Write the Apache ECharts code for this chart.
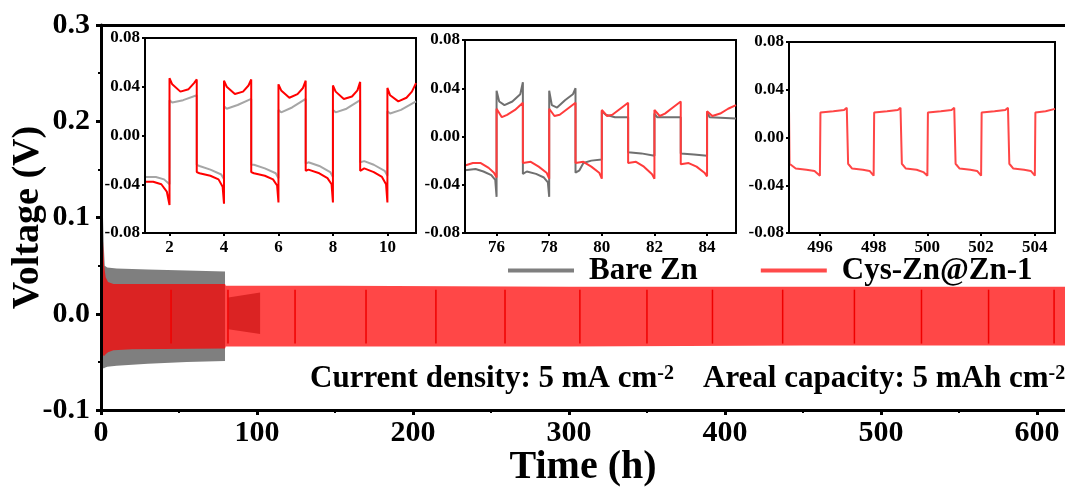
<!DOCTYPE html>
<html><head><meta charset="utf-8">
<script src="https://cdn.jsdelivr.net/npm/echarts@6/dist/echarts.min.js"></script>
<style>html,body{margin:0;padding:0;background:#fff}#c{width:1065px;height:490px}</style>
</head><body><div id="c"></div>
<script>
// ---------- main panel: envelope of the dense cycling band ----------
const bareT1  = [0.5, 1.2, 1.8, 2.4, 4, 10, 30, 55, 79.5];
const bareUp1 = [0.126, 0.105, 0.070, 0.050, 0.048, 0.047, 0.046, 0.045, 0.044];
const bareLo1 = [-0.045, -0.056, -0.057, -0.056, -0.055, -0.054, -0.052, -0.050, -0.049];
const bareT2  = [81.6, 102];
const bareUp2 = [0.017, 0.022];
const bareLo2 = [-0.016, -0.021];
const cysT  = [0.6, 1.3, 2.0, 3.0, 4.5, 8, 20, 79.5, 80, 150, 300, 450, 618];
const cysUp = [0.084, 0.075, 0.050, 0.038, 0.033, 0.031, 0.031, 0.031, 0.029, 0.029, 0.028, 0.028, 0.028];
const cysLo = [-0.030, -0.043, -0.044, -0.042, -0.040, -0.038, -0.037, -0.036, -0.034, -0.034, -0.034, -0.033, -0.033];
const cysBreakT = [44.9, 81.4, 124.4, 169.9, 214.7, 259, 307, 350, 392, 437, 483, 526, 569, 611];
const cysBreakTop = 0.025, cysBreakBottom = -0.031;
const mainXTicks = [0, 100, 200, 300, 400, 500, 600];
const mainXMinor = [50, 150, 250, 350, 450, 550];

// ---------- inset 1 (1–11 h) ----------
const in1Bare = [[1.1,-0.034],[1.5,-0.034],[1.8,-0.036],[2.0,-0.040],
 [2.0,0.029],[2.1,0.027],[2.5,0.029],[3.0,0.033],
 [3.0,-0.024],[3.1,-0.025],[3.5,-0.028],[3.9,-0.032],[4.0,-0.036],
 [4.0,0.024],[4.1,0.022],[4.5,0.025],[5.0,0.030],
 [5.0,-0.024],[5.1,-0.024],[5.5,-0.027],[5.9,-0.031],[6.0,-0.035],
 [6.0,0.021],[6.1,0.019],[6.5,0.023],[7.0,0.030],
 [7.0,-0.023],[7.1,-0.022],[7.5,-0.025],[7.9,-0.030],[8.0,-0.034],
 [8.0,0.021],[8.1,0.019],[8.5,0.022],[9.0,0.029],
 [9.0,-0.022],[9.15,-0.021],[9.5,-0.024],[9.9,-0.029],[10.0,-0.033],
 [10.0,0.020],[10.1,0.018],[10.5,0.021],[11.05,0.028]];
const in1Cys = [[1.1,-0.038],[1.4,-0.038],[1.7,-0.040],[1.9,-0.046],[2.0,-0.057],
 [2.0,0.047],[2.1,0.042],[2.4,0.036],[2.7,0.038],[2.9,0.043],[3.0,0.046],
 [3.0,-0.030],[3.1,-0.031],[3.5,-0.033],[3.8,-0.036],[3.95,-0.042],[4.0,-0.056],
 [4.0,0.045],[4.1,0.040],[4.4,0.034],[4.7,0.036],[4.9,0.041],[5.0,0.046],
 [5.0,-0.030],[5.1,-0.031],[5.5,-0.033],[5.8,-0.036],[5.95,-0.041],[6.0,-0.055],
 [6.0,0.042],[6.1,0.037],[6.4,0.031],[6.7,0.034],[6.9,0.039],[7.0,0.045],
 [7.0,-0.029],[7.1,-0.028],[7.5,-0.031],[7.8,-0.035],[7.95,-0.040],[8.0,-0.055],
 [8.0,0.041],[8.1,0.036],[8.4,0.030],[8.7,0.032],[8.9,0.037],[9.0,0.044],
 [9.0,-0.029],[9.15,-0.027],[9.5,-0.030],[9.8,-0.034],[9.95,-0.040],[10.0,-0.055],
 [10.0,0.039],[10.1,0.033],[10.4,0.028],[10.7,0.031],[10.9,0.036],[11.05,0.043]];
const in1XTicks = [2, 4, 6, 8, 10];

// ---------- inset 2 (75–85 h) ----------
const in2Bare = [[74.8,-0.028],[75.2,-0.027],[75.5,-0.029],[75.8,-0.032],[75.95,-0.036],[76.0,-0.050],
 [76.0,0.038],[76.1,0.029],[76.3,0.026],[76.6,0.029],[76.9,0.035],[77.0,0.045],
 [77.0,-0.031],[77.15,-0.029],[77.5,-0.031],[77.8,-0.034],[77.95,-0.038],[78.0,-0.050],
 [78.0,0.038],[78.1,0.026],[78.3,0.024],[78.6,0.030],[78.9,0.035],[79.0,0.040],
 [79.0,-0.030],[79.15,-0.028],[79.3,-0.022],[79.6,-0.020],[80.0,-0.019],
 [80.0,0.021],[80.15,0.018],[80.5,0.016],[81.0,0.016],
 [81.0,-0.013],[81.5,-0.014],[82.0,-0.016],
 [82.0,0.019],[82.1,0.016],[82.5,0.016],[83.0,0.016],
 [83.0,-0.014],[83.5,-0.015],[84.0,-0.016],
 [84.0,0.020],[84.1,0.016],[85.1,0.015]];
const in2Cys = [[74.8,-0.024],[75.1,-0.022],[75.4,-0.022],[75.7,-0.026],[75.9,-0.030],[76.0,-0.034],
 [76.0,0.023],[76.2,0.016],[76.4,0.018],[76.7,0.022],[77.0,0.028],
 [77.0,-0.022],[77.3,-0.021],[77.6,-0.025],[77.9,-0.030],[78.0,-0.035],
 [78.0,0.023],[78.2,0.017],[78.4,0.018],[78.7,0.023],[79.0,0.028],
 [79.0,-0.022],[79.3,-0.021],[79.6,-0.025],[79.9,-0.030],[80.0,-0.035],
 [80.0,0.022],[80.2,0.017],[80.4,0.018],[80.7,0.023],[81.0,0.028],
 [81.0,-0.022],[81.3,-0.021],[81.6,-0.025],[81.9,-0.031],[82.0,-0.035],
 [82.0,0.022],[82.2,0.017],[82.4,0.019],[82.7,0.024],[83.0,0.029],
 [83.0,-0.023],[83.3,-0.022],[83.6,-0.025],[83.9,-0.030],[84.0,-0.033],
 [84.0,0.021],[84.2,0.017],[84.5,0.019],[84.8,0.023],[85.1,0.026]];
const in2XTicks = [76, 78, 80, 82, 84];

// ---------- inset 3 (495–505 h) ----------
const in3Cys = [[494.85,0.025],[494.87,-0.022],[495.1,-0.026],[495.5,-0.027],[495.8,-0.028],[496.0,-0.032],
 [496.02,0.021],[496.5,0.022],[496.9,0.023],[497.0,0.025],
 [497.05,-0.022],[497.2,-0.026],[497.6,-0.027],[497.85,-0.028],[498.0,-0.032],
 [498.02,0.021],[498.5,0.022],[498.9,0.023],[499.0,0.025],
 [499.05,-0.022],[499.2,-0.026],[499.6,-0.027],[499.85,-0.029],[500.0,-0.032],
 [500.02,0.021],[500.5,0.022],[500.9,0.023],[501.0,0.025],
 [501.05,-0.022],[501.2,-0.026],[501.6,-0.027],[501.85,-0.028],[502.0,-0.032],
 [502.02,0.021],[502.5,0.022],[502.9,0.023],[503.0,0.025],
 [503.05,-0.022],[503.2,-0.026],[503.6,-0.027],[503.85,-0.028],[504.0,-0.032],
 [504.02,0.021],[504.4,0.022],[504.75,0.024]];
const in3XTicks = [496, 498, 500, 502, 504];

// ---------- style ----------
const FF = 'Liberation Serif';
const GRAY = '#7f7f7f', RED_BAND = 'rgba(255,0,0,0.72)';

function band(name, t, up, lo, color) {
  return {
    type: 'custom', name: name, xAxisIndex: 0, yAxisIndex: 0, z: 2,
    data: t.map((x, i) => [x, up[i], lo[i]]),
    encode: { x: 0, y: [1, 2] },
    itemStyle: { color: color },
    renderItem: function (params, api) {
      if (params.dataIndex !== 0) return null;
      const pts = [];
      for (let i = 0; i < t.length; i++) pts.push(api.coord([t[i], up[i]]));
      for (let i = t.length - 1; i >= 0; i--) pts.push(api.coord([t[i], lo[i]]));
      return { type: 'polygon', shape: { points: pts }, style: { fill: color } };
    }
  };
}

function insetGrid(left, top, width, height) {
  return { left: left, top: top, width: width, height: height, show: true, outerBoundsMode: 'none',
    backgroundColor: '#fff', borderColor: '#000', borderWidth: 2, z: 5 };
}
function insetX(grid, min, max, ticks) {
  return { type: 'value', gridIndex: grid, min: min, max: max, z: 8,
    axisLine: { show: true, onZero: false, lineStyle: { color: '#000', width: 2 } },
    axisTick: { show: true, customValues: ticks, length: 3, lineStyle: { color: '#000', width: 2 } },
    axisLabel: { customValues: ticks, margin: 6, color: '#000', fontFamily: FF, fontWeight: 'bold', fontSize: 17 },
    splitLine: { show: false } };
}
function insetY(grid) {
  return { type: 'value', gridIndex: grid, min: -0.08, max: 0.08, interval: 0.04, z: 8,
    axisLine: { show: true, onZero: false, lineStyle: { color: '#000', width: 2 } },
    axisTick: { show: true, length: 3, lineStyle: { color: '#000', width: 2 } },
    axisLabel: { margin: 5, color: '#000', fontFamily: FF, fontWeight: 'bold', fontSize: 17,
      formatter: v => v.toFixed(2) },
    splitLine: { show: false } };
}
function insetLine(name, data, xi, yi, color) {
  return { type: 'line', name: name, xAxisIndex: xi, yAxisIndex: yi, data: data, z: 6,
    showSymbol: false, symbol: 'none', animation: false,
    lineStyle: { color: color, width: 2 }, itemStyle: { color: color } };
}

const chart = echarts.init(document.getElementById('c'));
chart.setOption({
  animation: false,
  backgroundColor: '#fff',
  grid: [
    { left: 101, right: 0, top: 25, bottom: 80, show: false, outerBoundsMode: 'none' },
    insetGrid(145, 38, 271, 195),
    insetGrid(465, 40, 271, 193),
    insetGrid(789, 42, 266, 191)
  ],
  xAxis: [
    { type: 'value', gridIndex: 0, min: 0, max: 618, z: 3, position: 'bottom',
      name: 'Time (h)', nameLocation: 'middle', nameGap: 38, nameMoveOverlap: false,
      nameTextStyle: { fontFamily: FF, fontWeight: 'bold', fontSize: 40, color: '#000' },
      axisLine: { show: true, onZero: false, lineStyle: { color: '#000', width: 3 } },
      axisTick: { show: true, customValues: mainXTicks, length: 5, lineStyle: { color: '#000', width: 3 } },
      axisLabel: { customValues: mainXTicks, margin: 8, color: '#000', fontFamily: FF, fontWeight: 'bold', fontSize: 30 },
      splitLine: { show: false } },
    { type: 'value', gridIndex: 0, min: 0, max: 618, z: 3, position: 'bottom',
      axisLine: { show: false, onZero: false },
      axisTick: { show: true, customValues: mainXMinor, length: 3, lineStyle: { color: '#000', width: 2 } },
      axisLabel: { show: false }, splitLine: { show: false } },
    { type: 'value', gridIndex: 0, min: 0, max: 618, position: 'top', z: 3,
      axisLine: { show: true, onZero: false, lineStyle: { color: '#000', width: 3 } },
      axisTick: { show: false }, axisLabel: { show: false }, splitLine: { show: false } },
    insetX(1, 1.1, 11.05, in1XTicks),
    insetX(2, 74.8, 85.1, in2XTicks),
    insetX(3, 494.85, 504.75, in3XTicks)
  ],
  yAxis: [
    { type: 'value', gridIndex: 0, min: -0.1, max: 0.3, interval: 0.1, z: 3,
      name: 'Voltage (V)', nameLocation: 'middle', nameGap: 54, nameMoveOverlap: false,
      nameTextStyle: { fontFamily: FF, fontWeight: 'bold', fontSize: 38, color: '#000' },
      axisLine: { show: true, onZero: false, lineStyle: { color: '#000', width: 3 } },
      axisTick: { show: true, length: 5, lineStyle: { color: '#000', width: 3 } },
      minorTick: { show: true, splitNumber: 2, length: 3, lineStyle: { color: '#000', width: 2 } },
      axisLabel: { margin: 11, color: '#000', fontFamily: FF, fontWeight: 'bold', fontSize: 30,
        formatter: v => v.toFixed(1) },
      splitLine: { show: false }, minorSplitLine: { show: false } },
    insetY(1), insetY(2), insetY(3)
  ],
  legend: {
    left: 508, top: 255, padding: 0, icon: 'rect', itemWidth: 66, itemHeight: 4, itemGap: 63,
    selectedMode: false, z: 9,
    textStyle: { fontFamily: FF, fontWeight: 'bold', fontSize: 31, color: '#000', padding: [0, 0, 0, 10] },
    data: [
      { name: 'Bare Zn', itemStyle: { color: GRAY } },
      { name: 'Cys-Zn@Zn-1', itemStyle: { color: '#ff4a4a' } }
    ]
  },
  graphic: [
    { type: 'text', x: 310, y: 379, z: 9,
      style: { text: '{a|Current density: 5 mA cm}{s|-2}', verticalAlign: 'middle', fill: '#000',
        rich: { a: { fontFamily: FF, fontWeight: 'bold', fontSize: 31, fill: '#000' },
                s: { fontFamily: FF, fontWeight: 'bold', fontSize: 20, verticalAlign: 'top', fill: '#000' } } } },
    { type: 'text', x: 703, y: 379, z: 9,
      style: { text: '{a|Areal capacity: 5 mAh cm}{s|-2}', verticalAlign: 'middle', fill: '#000',
        rich: { a: { fontFamily: FF, fontWeight: 'bold', fontSize: 31, fill: '#000' },
                s: { fontFamily: FF, fontWeight: 'bold', fontSize: 20, verticalAlign: 'top', fill: '#000' } } } }
  ],
  series: [
    band('Bare Zn', bareT1, bareUp1, bareLo1, GRAY),
    band('Bare Zn', bareT2, bareUp2, bareLo2, GRAY),
    band('Cys-Zn@Zn-1', cysT, cysUp, cysLo, RED_BAND),
    { type: 'custom', name: 'Cys-Zn@Zn-1', xAxisIndex: 0, yAxisIndex: 0, z: 2,
      data: cysBreakT.map(t => [t, cysBreakTop, cysBreakBottom]),
      encode: { x: 0, y: [1, 2] }, itemStyle: { color: '#f00000' },
      renderItem: function (params, api) {
        const p1 = api.coord([api.value(0), api.value(1)]);
        const p2 = api.coord([api.value(0), api.value(2)]);
        return { type: 'line', shape: { x1: p1[0], y1: p1[1], x2: p2[0], y2: p2[1] },
          style: { stroke: '#f00000', lineWidth: 1.5 } };
      } },
    insetLine('Bare Zn', in1Bare, 3, 1, '#a6a6a6'),
    insetLine('Cys-Zn@Zn-1', in1Cys, 3, 1, '#ff0000'),
    insetLine('Bare Zn', in2Bare, 4, 2, '#707070'),
    insetLine('Cys-Zn@Zn-1', in2Cys, 4, 2, '#ff3b3b'),
    insetLine('Cys-Zn@Zn-1', in3Cys, 5, 3, '#ff4646')
  ]
});
</script></body></html>
